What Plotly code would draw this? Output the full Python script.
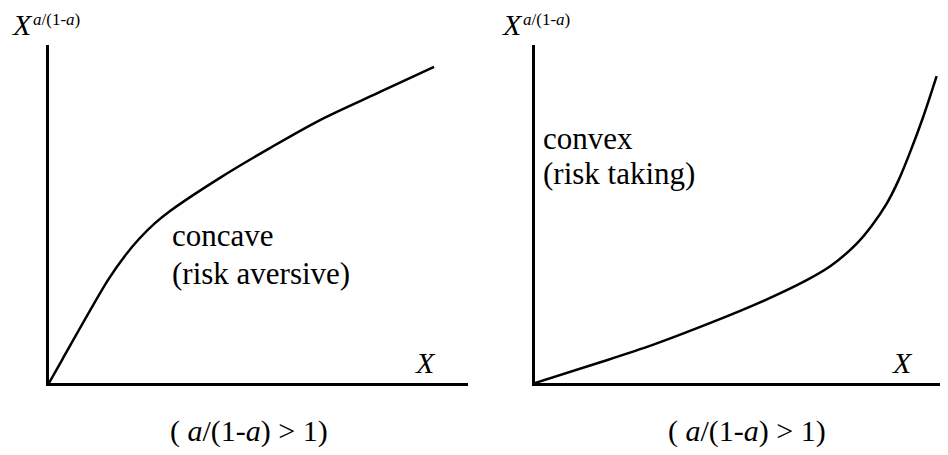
import plotly.graph_objects as go

# ---- data (arbitrary units, each panel X in [0,10], Y in [0,10]) ----
concave_x = [0, 0.31, 1.41, 1.81, 2.17, 2.53, 2.89, 4.08, 5.27, 6.47, 7.90, 9.19]
concave_y = [0, 0.68, 3.05, 3.76, 4.29, 4.73, 5.09, 6.07, 6.95, 7.78, 8.61, 9.35]

convex_x = [0, 1.57, 2.78, 3.68, 5.21, 6.42, 7.02, 7.63, 7.99, 8.35, 8.64, 8.91, 9.22, 9.54]
convex_y = [0, 0.62, 1.12, 1.54, 2.31, 3.02, 3.46, 4.11, 4.64, 5.30, 6.01, 6.83, 7.87, 9.08]

W, H = 948, 455
OFF = 8  # default body margin of the html page
FONT = "'Liberation Serif', 'Times New Roman', 'DejaVu Serif', serif"


def px(x):
    return (x - OFF) / W


def py(y):
    return 1 - (y - OFF) / H


fig = go.Figure()
fig.add_trace(go.Scatter(x=concave_x, y=concave_y, mode="lines",
                         line=dict(color="black", width=2.5, shape="spline", smoothing=0.9),
                         xaxis="x", yaxis="y", showlegend=False, hoverinfo="skip"))
fig.add_trace(go.Scatter(x=convex_x, y=convex_y, mode="lines",
                         line=dict(color="black", width=2.5, shape="spline", smoothing=0.9),
                         xaxis="x2", yaxis="y2", showlegend=False, hoverinfo="skip"))

ax_common = dict(showline=True, linecolor="black", linewidth=2.5, showgrid=False,
                 zeroline=False, showticklabels=False, ticks="", fixedrange=True)

ydom = [py(383), py(45)]
fig.update_layout(
    width=W, height=H,
    margin=dict(l=0, r=0, t=0, b=0),
    paper_bgcolor="white", plot_bgcolor="white",
    xaxis=dict(domain=[px(49), px(468)], range=[0, 10], anchor="y", **ax_common),
    yaxis=dict(domain=ydom, range=[0, 10], anchor="x", **ax_common),
    xaxis2=dict(domain=[px(535), 1], range=[0, 10], anchor="y2", **ax_common),
    yaxis2=dict(domain=ydom, range=[0, 10], anchor="x2", **ax_common),
    font=dict(family=FONT, color="black"),
)


def ann(text, x, y, size, xanchor="left", yanchor="middle"):
    fig.add_annotation(text=text, x=px(x), y=py(y), xref="paper", yref="paper",
                       xanchor=xanchor, yanchor=yanchor, showarrow=False,
                       font=dict(family=FONT, size=size, color="black"))


# y-axis titles
for x0 in (10, 500):
    ann("<i>X</i>", x0, 25, 30)
    ann("<i>a</i>/(1-<i>a</i>)", x0 + 21, 8, 17, yanchor="top")

# x-axis labels
ann("<i>X</i>", 413, 362, 30)
ann("<i>X</i>", 890, 362, 30)

# curve labels
ann("concave", 170, 235, 31)
ann("(risk aversive)", 170, 273, 31)
ann("convex", 541, 138, 31)
ann("(risk taking)", 541, 173, 31)

# bottom labels
ann("( <i>a</i>/(1-<i>a</i>) &gt; 1)", 168, 431, 30)
ann("( <i>a</i>/(1-<i>a</i>) &gt; 1)", 666, 431, 30)

fig.write_html("out.html")
